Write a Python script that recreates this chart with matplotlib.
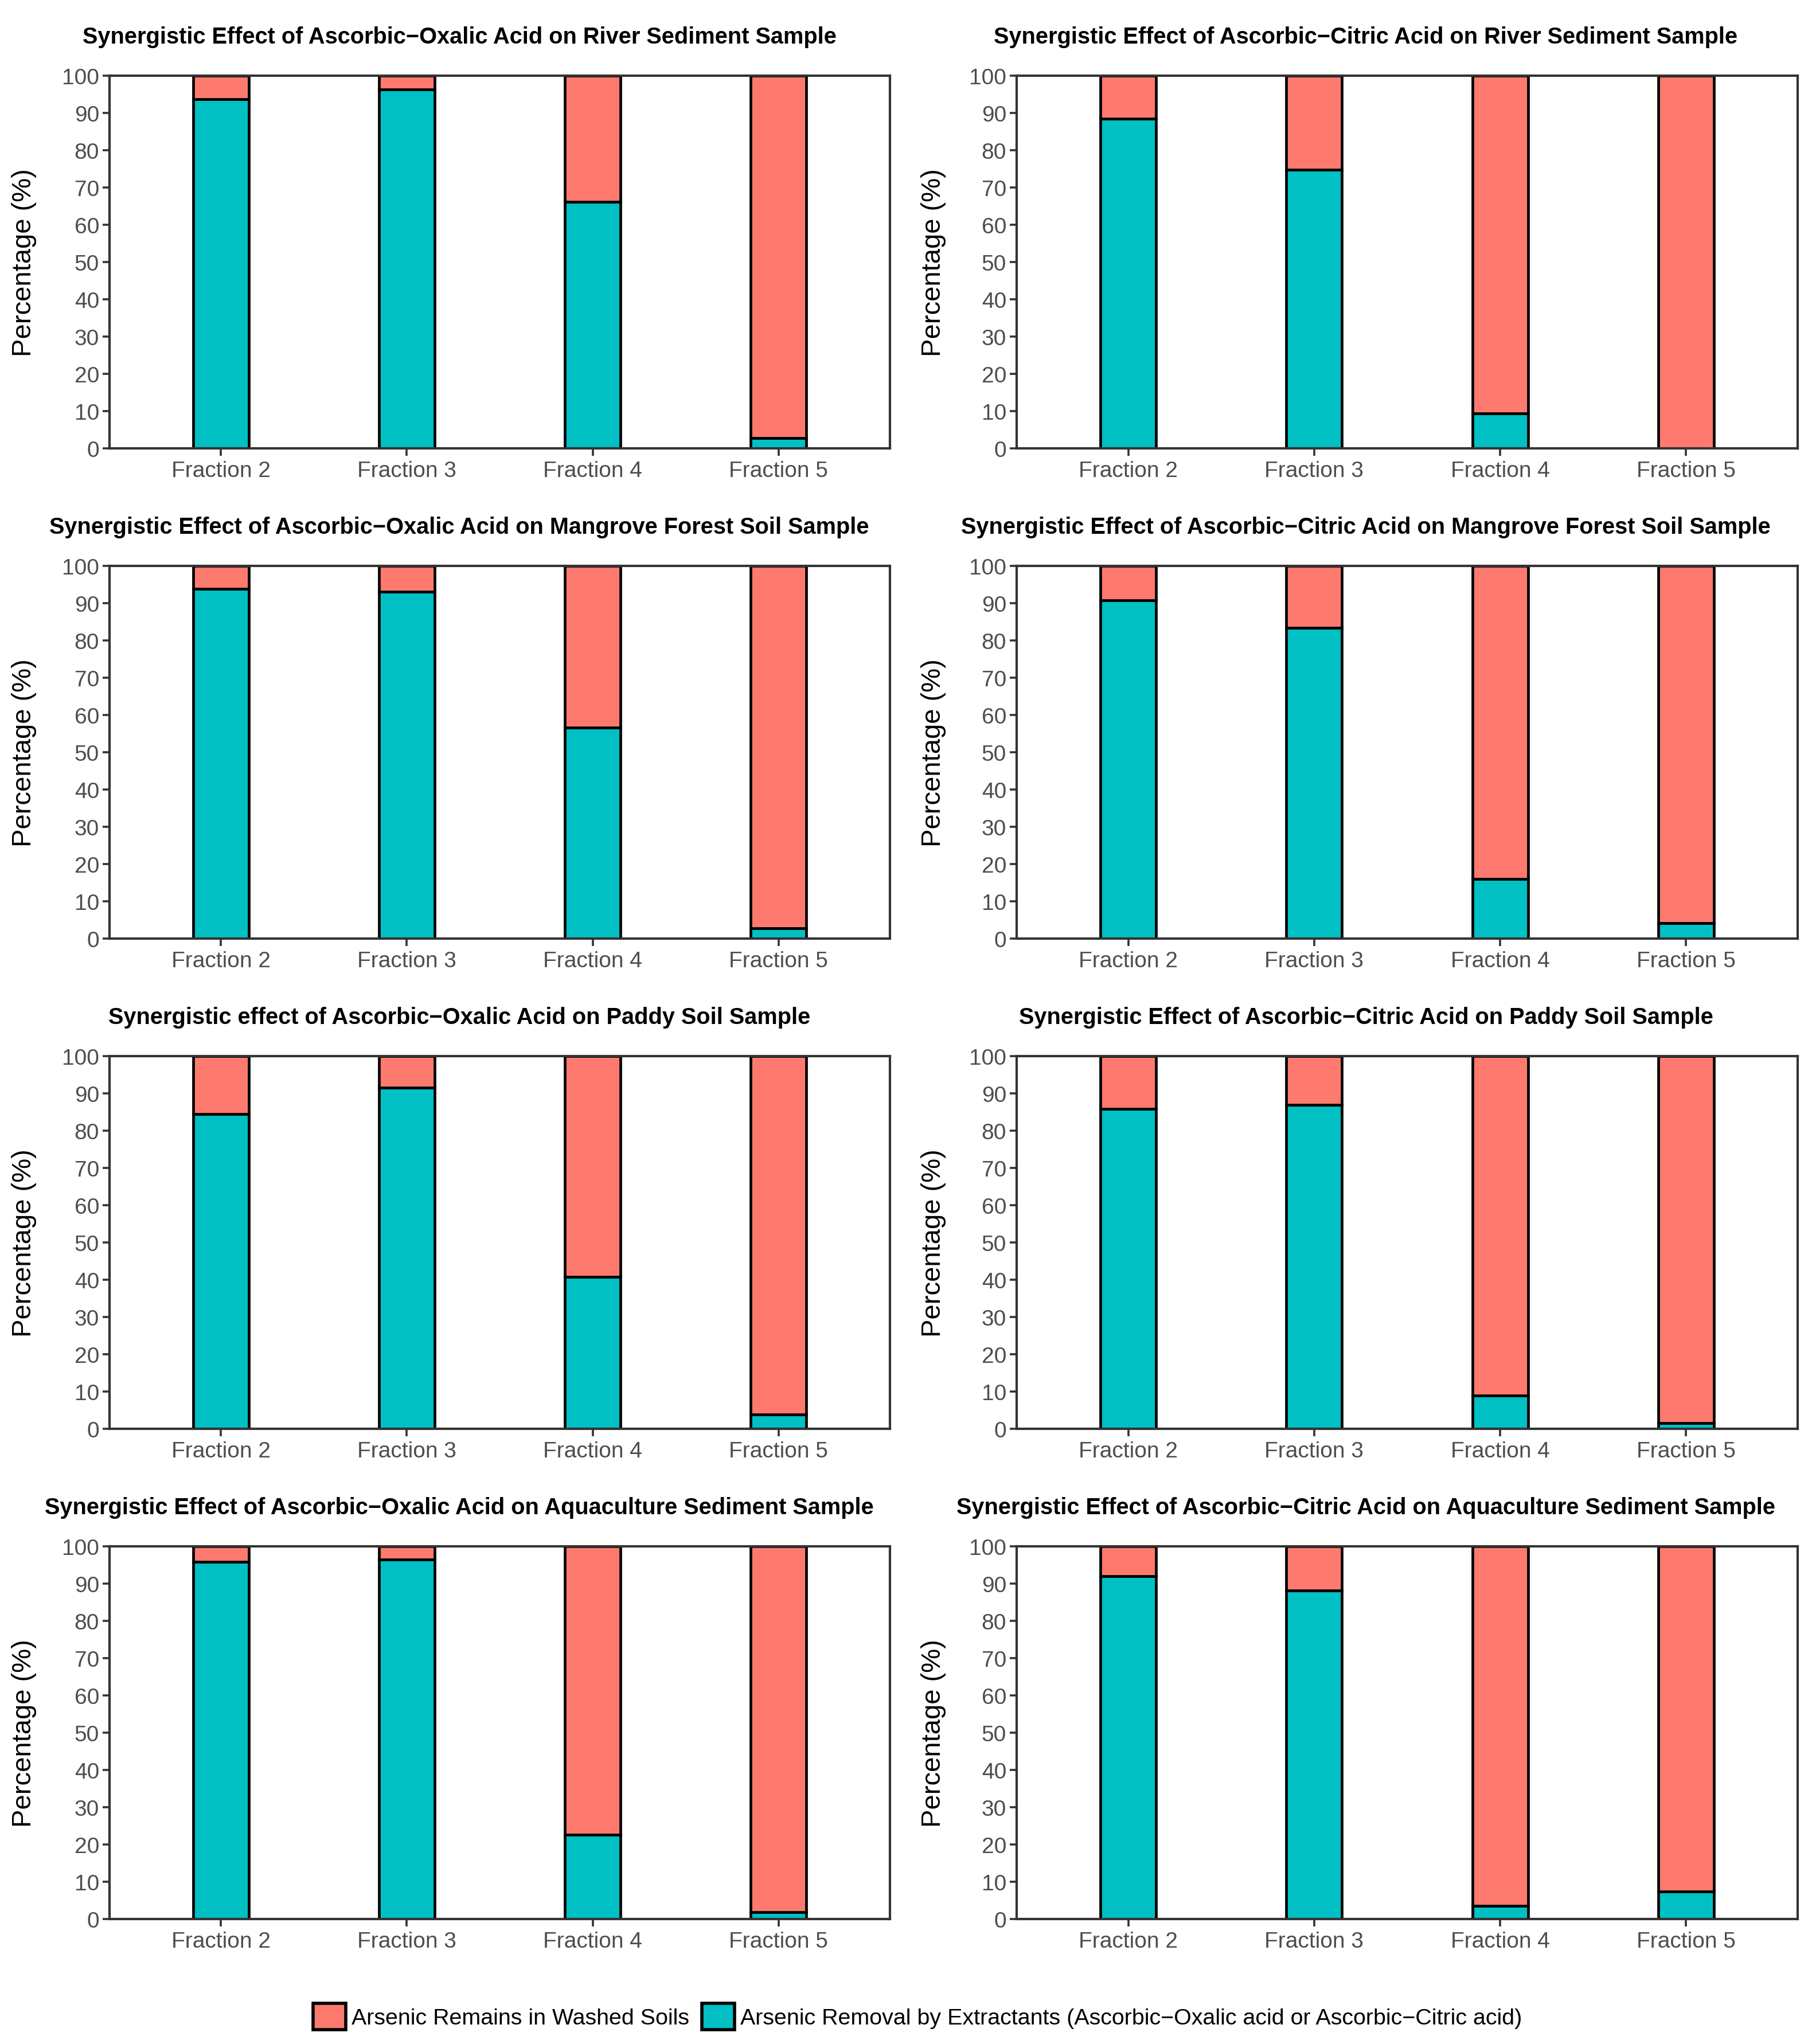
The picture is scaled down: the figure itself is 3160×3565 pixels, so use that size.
import matplotlib
matplotlib.use('Agg')
matplotlib.rcParams['font.family'] = ['Liberation Sans', 'DejaVu Sans']
import matplotlib.pyplot as plt
from matplotlib.patches import Patch

FRACTIONS = ['Fraction 2', 'Fraction 3', 'Fraction 4', 'Fraction 5']

TITLES = [
    'Synergistic Effect of Ascorbic\u2212Oxalic Acid on River Sediment Sample',
    'Synergistic Effect of Ascorbic\u2212Citric Acid on River Sediment Sample',
    'Synergistic Effect of Ascorbic\u2212Oxalic Acid on Mangrove Forest Soil Sample',
    'Synergistic Effect of Ascorbic\u2212Citric Acid on Mangrove Forest Soil Sample',
    'Synergistic effect of Ascorbic\u2212Oxalic Acid on Paddy Soil Sample',
    'Synergistic Effect of Ascorbic\u2212Citric Acid on Paddy Soil Sample',
    'Synergistic Effect of Ascorbic\u2212Oxalic Acid on Aquaculture Sediment Sample',
    'Synergistic Effect of Ascorbic\u2212Citric Acid on Aquaculture Sediment Sample',
]

# % arsenic removed by extractants (rest remains in washed soil)
oxalic_river     = [93.7, 96.3, 66.2, 2.7]
citric_river     = [88.4, 74.7, 9.4, 0.0]
oxalic_mangrove  = [93.8, 93.1, 56.6, 2.8]
citric_mangrove  = [90.8, 83.4, 16.0, 4.2]
oxalic_paddy     = [84.5, 91.6, 40.8, 3.9]
citric_paddy     = [85.8, 87.0, 9.0, 1.5]
oxalic_aqua      = [95.9, 96.5, 22.6, 1.9]
citric_aqua      = [92.0, 88.1, 3.6, 7.4]

REMOVAL = [oxalic_river, citric_river, oxalic_mangrove, citric_mangrove,
           oxalic_paddy, citric_paddy, oxalic_aqua, citric_aqua]

LEGEND_LABELS = ['Arsenic Remains in Washed Soils',
                 'Arsenic Removal by Extractants (Ascorbic\u2212Oxalic acid or Ascorbic\u2212Citric acid)']

PINK, TEAL = '#FE7A6F', '#00C0C4'
W, H = 3160, 3566
DPI = 200
LW = 1.7

fig = plt.figure(figsize=(W / DPI, H / DPI), dpi=DPI)

# pixel layout of the axes (left, right) per column and (top, bottom) per row
COLS = [(191, 1552), (1773, 3135)]
ROWS = [(133, 783), (988, 1638), (1843, 2493), (2698, 3348)]
TITLE_X = [801, 2382]
YLABEL_X = [64, 1650]   # right edge of the rotated y label

for i, (title, removal) in enumerate(zip(TITLES, REMOVAL)):
    r, c = divmod(i, 2)
    x0, x1 = COLS[c]
    y0, y1 = ROWS[r]
    ax = fig.add_axes([x0 / W, 1 - y1 / H, (x1 - x0) / W, (y1 - y0) / H])
    xs = range(len(FRACTIONS))
    remains = [100 - v for v in removal]
    ax.bar(xs, removal, width=0.3, color=TEAL, edgecolor='black', linewidth=LW, zorder=2)
    ax.bar(xs, remains, bottom=removal, width=0.3, color=PINK, edgecolor='black',
           linewidth=LW, zorder=2)
    ax.set_xlim(-0.6, 3.6)
    ax.set_ylim(0, 100)
    ax.set_yticks(range(0, 101, 10))
    ax.set_xticks(list(xs))
    ax.set_xticklabels(FRACTIONS)
    ax.tick_params(axis='both', labelsize=14, colors='#333333', labelcolor='#4D4D4D',
                   length=4.5, width=1.3)
    ax.tick_params(axis='y', pad=2.0)
    ax.tick_params(axis='x', pad=3.0)
    for s in ax.spines.values():
        s.set_color('#333333')
        s.set_linewidth(1.5)
    ax.set_ylabel('Percentage (%)', fontsize=17, color='black')
    ax.yaxis.set_label_coords((YLABEL_X[c] - x0) / (x1 - x0), 0.5)
    fig.text(TITLE_X[c] / W, 1 - (y0 - 68) / H, title, ha='center', va='center',
             fontsize=14.3, fontweight='bold')

handles = [Patch(facecolor=PINK, edgecolor='black', linewidth=LW + 0.3),
           Patch(facecolor=TEAL, edgecolor='black', linewidth=LW + 0.3)]
fig.legend(handles, LEGEND_LABELS, loc='center', bbox_to_anchor=(1600 / W, 1 - 3518 / H),
           ncol=2, frameon=False, fontsize=14.2, handlelength=1.45, handleheight=1.45,
           handletextpad=0.25, columnspacing=0.55)

fig.savefig('out.png', dpi=DPI)
